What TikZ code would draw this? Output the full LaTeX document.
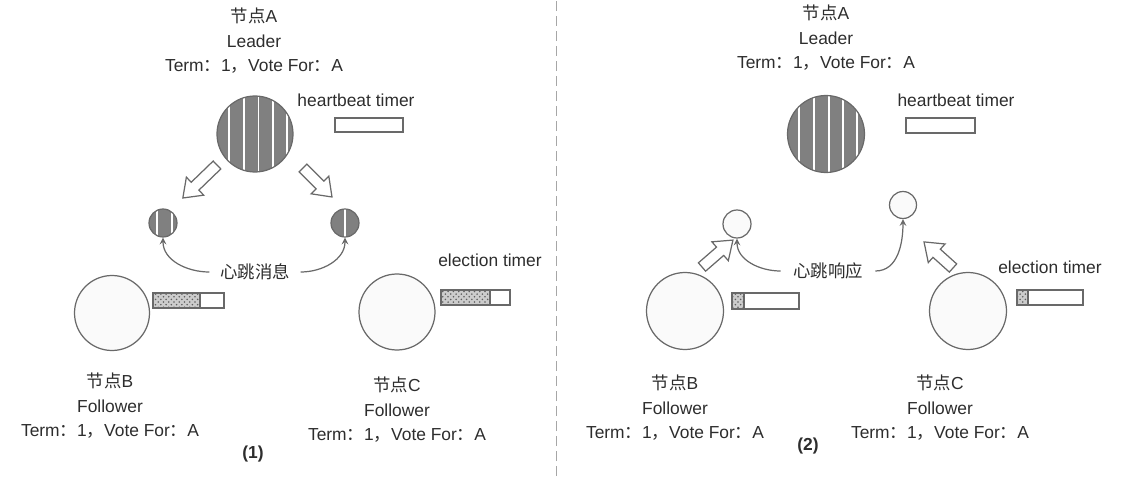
\documentclass[tikz,border=0pt]{standalone}
\usepackage{fontspec}
\setmainfont{Liberation Sans}
\newfontfamily\cjk{Noto Sans CJK SC}
\usetikzlibrary{patterns}

\definecolor{linegray}{RGB}{105,105,105}
\definecolor{textgray}{RGB}{45,45,45}
\definecolor{leadgray}{RGB}{128,128,128}

\newcommand{\termline}{Term{\cjk ：}1{\cjk ，}Vote For{\cjk ：}A}
% hollow block arrow: tail point, angle, length
\newcommand{\hollowarrow}[3]{%
  \draw[blockarrow, shift={#1}, rotate=#2] (0,-0.11) -- ({#3-0.34},-0.11) -- ({#3-0.34},-0.25)
    -- (#3,0) -- ({#3-0.34},0.25) -- ({#3-0.34},0.11) -- (0,0.11) -- cycle;}

\tikzset{
  lbl/.style={align=center, text=textgray, inner sep=0pt, font=\fontsize{9.9}{13.9}\selectfont},
  stripes/.style={path picture={\foreach \dx in {#1}
      \draw[white, line width=0.9pt] ([xshift=\dx cm]path picture bounding box.north)
        -- ([xshift=\dx cm]path picture bounding box.south);}},
  leader/.style={circle, inner sep=0pt, draw=linegray, fill=leadgray, line width=0.7pt},
  follower/.style={circle, inner sep=0pt, draw=linegray, fill=gray!4, line width=0.7pt},
  blockarrow/.style={draw=linegray, fill=white, line width=0.7pt, line join=miter},
  beat/.style={draw=linegray, line width=0.7pt, -stealth},
  timerbox/.style={draw=linegray, line width=0.7pt},
  timerfill/.style={draw=linegray, line width=0.7pt, fill=gray!40,
    postaction={pattern=crosshatch dots, pattern color=gray!75!black}},
}

\begin{document}
\begin{tikzpicture}
  \useasboundingbox (0,0) rectangle (22.68,9.52);

  % (1) leader sends heartbeats
  \node[lbl] (labA) at (5.08,8.70) {{\cjk 节点}A\\Leader\\\termline};
  \node[leader, minimum size=1.52cm, stripes={-0.52,-0.22,0.07,0.36,0.64}] (nodeA) at (5.10,6.84) {};
  \node[lbl] (hbA) at (7.12,7.52) {heartbeat timer};
  \draw[timerbox] (6.70,6.88) rectangle (8.06,7.16);

  \hollowarrow{(4.34,6.22)}{224}{0.95}
  \hollowarrow{(6.06,6.16)}{-45}{0.82}

  \node[leader, minimum size=0.56cm, stripes={-0.12,0.18}] (msgB) at (3.26,5.06) {};
  \node[leader, minimum size=0.56cm, stripes={0}] (msgC) at (6.90,5.06) {};
  \node[lbl, inner sep=6pt] (beat1) at (5.10,4.08) {\cjk 心跳消息};
  \draw[beat] (beat1.west) to[out=180, in=-90] (msgB.south);
  \draw[beat] (beat1.east) to[out=0, in=-90] (msgC.south);

  \node[follower, minimum size=1.5cm] (nodeB) at (2.24,3.26) {};
  \filldraw[timerfill] (3.06,3.36) rectangle (4.00,3.66);
  \draw[timerbox] (3.06,3.36) rectangle (4.48,3.66);
  \node[lbl] (labB) at (2.20,1.40) {{\cjk 节点}B\\Follower\\\termline};

  \node[follower, minimum size=1.52cm] (nodeC) at (7.94,3.28) {};
  \node[lbl] (etC) at (9.80,4.32) {election timer};
  \filldraw[timerfill] (8.82,3.42) rectangle (9.80,3.72);
  \draw[timerbox] (8.82,3.42) rectangle (10.20,3.72);
  \node[lbl] (labC) at (7.94,1.32) {{\cjk 节点}C\\Follower\\\termline};

  \node[lbl, font=\fontsize{9.9}{12}\selectfont\bfseries] (cap1) at (5.06,0.44) {(1)};

  \draw[gray!70, line width=0.5pt, dash pattern=on 0.2cm off 0.1cm] (11.12,0) -- (11.12,9.52);

  % (2) followers answer
  \node[lbl] (labA2) at (16.52,8.76) {{\cjk 节点}A\\Leader\\\termline};
  \node[leader, minimum size=1.54cm, stripes={-0.54,-0.24,0.06,0.34,0.62}] (nodeA2) at (16.52,6.84) {};
  \node[lbl] (hbA2) at (19.12,7.52) {heartbeat timer};
  \draw[timerbox] (18.12,6.86) rectangle (19.50,7.16);

  \node[follower, minimum size=0.56cm] (ackB) at (14.74,5.04) {};
  \node[follower, minimum size=0.54cm] (ackC) at (18.06,5.42) {};
  \node[lbl, inner sep=7pt] (beat2) at (16.56,4.10) {\cjk 心跳响应};
  \draw[beat] (beat2.west) to[out=180, in=-90] (ackB.south);
  \draw[beat] (beat2.east) to[out=0, in=-90] (ackC.south);

  \hollowarrow{(14.04,4.18)}{41}{0.82}
  \hollowarrow{(19.06,4.16)}{138}{0.78}

  \node[follower, minimum size=1.54cm] (nodeB2) at (13.70,3.30) {};
  \filldraw[timerfill] (14.64,3.34) rectangle (14.88,3.66);
  \draw[timerbox] (14.64,3.34) rectangle (15.98,3.66);
  \node[lbl] (labB2) at (13.50,1.36) {{\cjk 节点}B\\Follower\\\termline};

  \node[follower, minimum size=1.54cm] (nodeC2) at (19.36,3.30) {};
  \node[lbl] (etC2) at (21.00,4.18) {election timer};
  \filldraw[timerfill] (20.34,3.42) rectangle (20.56,3.72);
  \draw[timerbox] (20.34,3.42) rectangle (21.66,3.72);
  \node[lbl] (labC2) at (18.80,1.36) {{\cjk 节点}C\\Follower\\\termline};

  \node[lbl, font=\fontsize{9.9}{12}\selectfont\bfseries] (cap2) at (16.16,0.60) {(2)};
\end{tikzpicture}
\end{document}
